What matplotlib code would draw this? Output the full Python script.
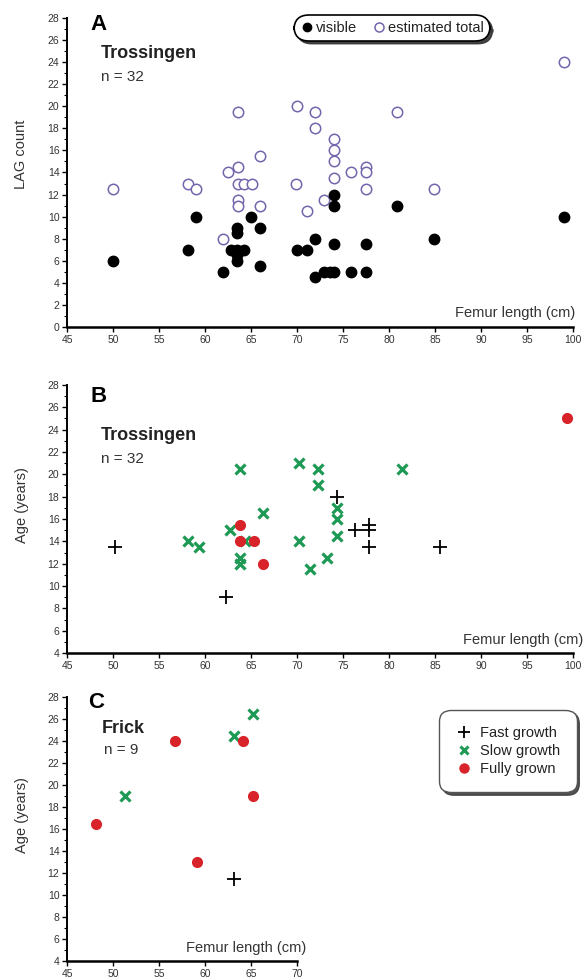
import matplotlib
matplotlib.use("Agg")
import matplotlib.pyplot as plt
from matplotlib.ticker import MultipleLocator
from matplotlib.lines import Line2D

plt.rcParams['font.family'] = ['Liberation Sans', 'DejaVu Sans']

# ---- Panel A: Trossingen LAG counts ----
a_vis_x = [50, 58.2, 59.0, 62.0, 62.8, 63.5, 64.2, 63.5, 63.5, 63.5, 63.5, 65.0, 66.0, 66.0,
           70.0, 71.1, 72.0, 72.0, 72.9, 73.6, 74.0, 74.0, 74.0, 74.0, 75.9, 77.5, 77.5,
           80.9, 84.9, 99.0]
a_vis_y = [6, 7, 10, 5, 7, 7, 7, 9, 8.5, 6, 6.5, 10, 9, 5.5,
           7, 7, 8, 4.5, 5, 5, 5, 7.5, 12, 11, 5, 5, 7.5,
           11, 8, 10]
a_tot_x = [50, 58.2, 59.0, 62.0, 62.5, 63.6, 63.6, 63.6, 64.2, 65.1, 63.6, 63.6, 66.0, 66.0,
           69.9, 70.0, 72.0, 72.0, 74.0, 74.0, 74.0, 74.0, 75.9, 77.5, 77.5, 72.9, 71.1,
           77.5, 80.9, 84.9, 99.0]
a_tot_y = [12.5, 13, 12.5, 8, 14, 14.5, 19.5, 13, 13, 13, 11.5, 11, 15.5, 11,
           13, 20, 19.5, 18, 17, 16, 15, 13.5, 14, 14.5, 14, 11.5, 10.5,
           12.5, 19.5, 12.5, 24]

# ---- Panel B: Trossingen ages ----
b_fast_x = [50.2, 62.3, 74.3, 76.3, 77.8, 77.8, 77.8, 85.5]
b_fast_y = [13.5, 9, 18, 15, 15.5, 15, 13.5, 13.5]
b_slow_x = [58.2, 59.3, 62.7, 63.8, 64.4, 63.8, 63.8, 66.3, 70.2, 70.2, 72.3, 72.3,
            74.3, 74.3, 74.3, 73.3, 71.4, 81.4]
b_slow_y = [14, 13.5, 15, 20.5, 14, 12.5, 12, 16.5, 21, 14, 20.5, 19,
            17, 16, 14.5, 12.5, 11.5, 20.5]
b_full_x = [63.8, 63.8, 65.3, 66.3, 99.4]
b_full_y = [15.5, 14, 14, 12, 25]

# ---- Panel C: Frick ages ----
c_fast_x = [63.2]
c_fast_y = [11.5]
c_slow_x = [51.3, 63.1, 65.2]
c_slow_y = [19, 24.5, 26.5]
c_full_x = [48.2, 56.7, 59.1, 64.1, 65.2]
c_full_y = [16.5, 24, 13, 24, 19]

W, H = 584, 980
PURPLE = '#7565ad'
GREEN = '#1e9a55'
RED = '#d8232a'
TICKC = '#333333'

fig = plt.figure(figsize=(W / 100, H / 100), dpi=100)


def add_axes_px(left, top, right, bottom):
    return fig.add_axes([left / W, 1 - bottom / H, (right - left) / W, (bottom - top) / H])


def style_axes(ax, xlim, ylim):
    ax.set_xlim(*xlim)
    ax.set_ylim(*ylim)
    ax.spines['top'].set_visible(False)
    ax.spines['right'].set_visible(False)
    ax.spines['left'].set_linewidth(1.4)
    ax.spines['bottom'].set_linewidth(1.8)
    ax.xaxis.set_major_locator(MultipleLocator(5))
    ax.yaxis.set_major_locator(MultipleLocator(2))
    ax.yaxis.set_minor_locator(MultipleLocator(1))
    ax.tick_params(axis='both', which='major', direction='out', length=3.5, width=1.0,
                   labelsize=7.5, labelcolor=TICKC, pad=2)
    ax.tick_params(axis='y', which='minor', direction='out', length=2, width=0.8)
    ax.patch.set_alpha(0)


def px_text(x, y, s, **kw):
    fig.text(x / W, 1 - y / H, s, **kw)


# Panel A
axA = add_axes_px(67, 18, 573, 327)
style_axes(axA, (45, 100), (0, 28))
axA.plot(a_tot_x, a_tot_y, 'o', ms=7.5, mfc='white', mec=PURPLE, mew=1.1, ls='none', zorder=2)
axA.plot(a_vis_x, a_vis_y, 'o', ms=7.5, mfc='black', mec='black', ls='none', zorder=3)

# Panel B
axB = add_axes_px(67, 385, 573, 653)
style_axes(axB, (45, 100), (4, 28))
axB.plot(b_slow_x, b_slow_y, 'x', ms=6.5, mec=GREEN, mew=2.3, ls='none', zorder=2)
axB.plot(b_full_x, b_full_y, 'o', ms=7, mfc=RED, mec=RED, ls='none', zorder=3)
axB.plot(b_fast_x, b_fast_y, '+', ms=9.5, mec='black', mew=1.3, ls='none', zorder=4)

# Panel C
axC = add_axes_px(67, 697, 297, 961)
style_axes(axC, (45, 70), (4, 28))
axC.plot(c_slow_x, c_slow_y, 'x', ms=6.5, mec=GREEN, mew=2.3, ls='none', zorder=2)
axC.plot(c_full_x, c_full_y, 'o', ms=7, mfc=RED, mec=RED, ls='none', zorder=3)
axC.plot(c_fast_x, c_fast_y, '+', ms=9.5, mec='black', mew=1.3, ls='none', zorder=4)

# Panel letters, site names, sample sizes
for (lx, ly, letter), (sx, sy, site), (nx, ny, ntext) in [
        ((90, 25, 'A'), (101, 54, 'Trossingen'), (101, 77, 'n = 32')),
        ((90, 397, 'B'), (101, 436, 'Trossingen'), (101, 459, 'n = 32')),
        ((88, 702, 'C'), (102, 728, 'Frick'), (104, 750, 'n = 9'))]:
    px_text(lx, ly, letter, fontsize=16, fontweight='bold', va='center', ha='left')
    px_text(sx, sy, site, fontsize=13, fontweight='bold', va='center', ha='left', color='#222222')
    px_text(nx, ny, ntext, fontsize=11, va='center', ha='left', color='#333333')

# Axis titles
px_text(21, 154, 'LAG count', fontsize=10.5, rotation=90, va='center', ha='center', color='#333333')
px_text(22, 505, 'Age (years)', fontsize=10.5, rotation=90, va='center', ha='center', color='#333333')
px_text(22, 815, 'Age (years)', fontsize=10.5, rotation=90, va='center', ha='center', color='#333333')
px_text(575, 313, 'Femur length (cm)', fontsize=10.5, va='center', ha='right', color='#333333')
px_text(583, 640, 'Femur length (cm)', fontsize=10.5, va='center', ha='right', color='#333333')
px_text(306, 948, 'Femur length (cm)', fontsize=10.5, va='center', ha='right', color='#333333')

# Legend for LAG panel
hA = [Line2D([], [], marker='o', ls='none', ms=6, mfc='black', mec='black'),
      Line2D([], [], marker='o', ls='none', ms=6.5, mfc='white', mec=PURPLE, mew=1.1)]
legA = axA.legend(hA, ['visible', 'estimated total'], ncol=2, loc='center',
                  bbox_to_anchor=(392 / W, 1 - 28 / H), bbox_transform=fig.transFigure,
                  fontsize=10.5, handletextpad=0.1, columnspacing=1.0, handlelength=1.0,
                  borderpad=0.15, fancybox=True, frameon=True,
                  shadow={'color': '0.2', 'alpha': 0.9})
fA = legA.get_frame()
fA.set_boxstyle('round,pad=0.25,rounding_size=1.0')
fA.set_edgecolor('black')
fA.set_linewidth(1.2)
fA.set_facecolor('white')
fA.set_alpha(1)

# Legend for growth-stage panels
hC = [Line2D([], [], marker='+', ls='none', ms=9, mec='black', mew=1.3),
      Line2D([], [], marker='x', ls='none', ms=6, mec=GREEN, mew=2.2),
      Line2D([], [], marker='o', ls='none', ms=6.5, mfc=RED, mec=RED)]
legC = axC.legend(hC, ['Fast growth', 'Slow growth', 'Fully grown'], loc='center',
                  bbox_to_anchor=(508 / W, 1 - 751 / H), bbox_transform=fig.transFigure,
                  fontsize=10.5, handletextpad=0.5, handlelength=1.2, labelspacing=0.3,
                  borderpad=0.8, fancybox=True, frameon=True,
                  shadow={'color': '0.25', 'alpha': 0.9})
fC = legC.get_frame()
fC.set_boxstyle('round,pad=0.3,rounding_size=0.8')
fC.set_edgecolor('#555555')
fC.set_linewidth(1.0)
fC.set_facecolor('white')
fC.set_alpha(1)
for t in list(legA.get_texts()) + list(legC.get_texts()):
    t.set_color('#222222')

fig.savefig('out.png', dpi=100)
